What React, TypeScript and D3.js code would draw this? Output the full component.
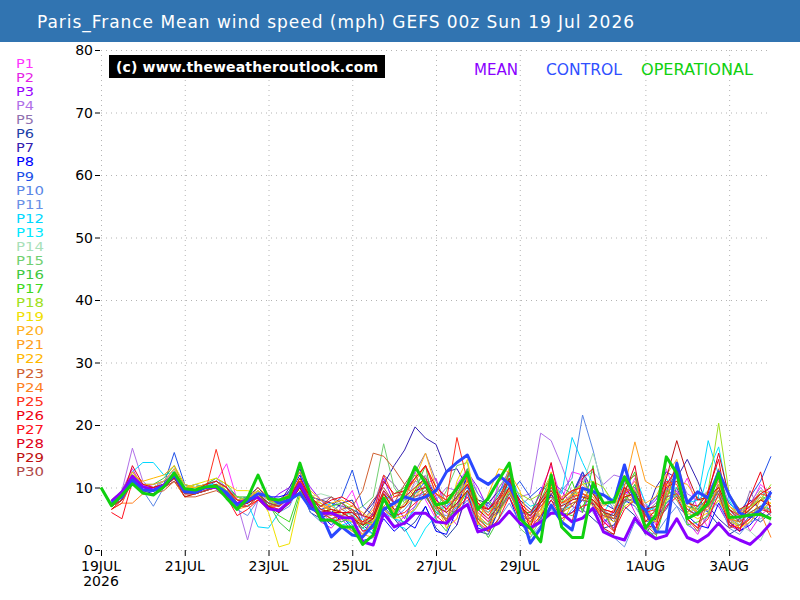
import React from 'react';
import * as d3 from 'd3';

// Run start and forecast step
const runStart = new Date(Date.UTC(2026, 6, 19, 0));
const runEnd = new Date(Date.UTC(2026, 7, 4, 0));
const stepHours = 6;

const titleText = 'Paris_France Mean wind speed (mph) GEFS 00z Sun 19 Jul 2026';

// x tick dates (UTC) and their labels
const tickDates = [
  [2026, 6, 19], [2026, 6, 21], [2026, 6, 23], [2026, 6, 25],
  [2026, 6, 27], [2026, 6, 29], [2026, 7, 1], [2026, 7, 3],
];
const tickLabels = ['19JUL', '21JUL', '23JUL', '25JUL', '27JUL', '29JUL', '1AUG', '3AUG'];
const yTicks = [0, 10, 20, 30, 40, 50, 60, 70, 80];

// Operational run starts at T+0, everything else at T+6
const operational = [
  10, 7.1, 8.8, 10.6, 9.1, 8.8, 10.1, 12.3, 9.8, 9.6, 10.1, 10.2, 8.3, 6.5, 8.3, 12.0,
  8.2, 8.0, 8.5, 13.9, 8.8, 4.8, 4.8, 3.7, 3.7, 0.9, 2.4, 8.3, 5.3, 9.3, 13.3, 10.7,
  7.2, 7.6, 9.9, 12.4, 6.5, 8.3, 11.2, 13.9, 5.0, 3.5, 1.3, 12.0, 3.7, 2.0, 2.0, 10.7,
  7.5, 7.7, 11.7, 8.8, 3.5, 5.6, 14.9, 12.3, 5.0, 5.9, 7.5, 12.3, 5.2, 5.3, 5.6, 5.7,
  5.0,
];

const mean = [
  7.8, 9.3, 11.8, 10.1, 9.6, 10.4, 12.0, 9.6, 9.4, 10.1, 10.0, 8.6, 7.4, 8.1, 8.4, 6.6,
  6.3, 7.8, 10.6, 7.5, 5.9, 5.9, 5.2, 5.1, 1.3, 0.8, 5.9, 3.7, 4.3, 5.9, 5.9, 4.5,
  4.3, 6.1, 7.3, 2.9, 3.5, 4.3, 6.2, 4.3, 3.5, 4.5, 5.9, 5.9, 4.5, 5.1, 6.7, 2.9,
  2.1, 1.6, 5.1, 2.9, 1.8, 2.3, 5.0, 2.0, 1.3, 2.4, 4.3, 2.4, 1.6, 0.9, 2.4, 4.3,
];

const control = [
  7.5, 8.5, 11.2, 9.6, 9.5, 10.2, 12.0, 9.3, 9.2, 10.0, 10.2, 9.2, 7.2, 7.8, 9.0, 8.6,
  7.5, 8.0, 9.1, 6.7, 5.9, 2.1, 3.7, 2.4, 2.1, 4.0, 6.5, 7.5, 8.5, 8.0, 8.5, 9.5,
  12.5, 14.0, 15.2, 11.5, 10.5, 12.0, 10.5, 6.7, 1.1, 3.5, 7.2, 4.5, 3.2, 9.9, 9.3, 8.8,
  7.7, 13.6, 7.7, 6.4, 2.9, 2.9, 13.9, 7.5, 9.3, 8.3, 12.5, 8.8, 5.9, 5.3, 6.4, 9.3,
];

// Perturbed members P1..P30
const p01 = [7.0, 8.5, 12.5, 10.5, 9.5, 10.0, 11.5, 9.0, 9.5, 10.5, 11.0, 13.8, 8.0, 7.5, 9.0, 7.0,
  6.5, 8.0, 10.5, 7.5, 6.0, 4.5, 7.0, 9.5, 5.0, 3.0, 9.5, 6.0, 9.0, 12.5, 8.0, 5.0,
  6.5, 10.5, 13.0, 6.5, 4.5, 11.0, 12.0, 7.5, 5.0, 9.5, 13.5, 8.0, 12.5, 12.0, 9.5, 4.5,
  3.5, 8.0, 11.5, 7.5, 4.0, 13.0, 8.5, 11.5, 6.5, 3.5, 11.5, 5.0, 3.0, 7.0, 10.5, 9.0];
const p02 = [8.0, 9.5, 13.0, 10.0, 10.5, 11.0, 12.5, 9.5, 10.0, 9.5, 10.0, 9.0, 7.5, 8.5, 10.0, 8.0,
  8.0, 9.5, 12.5, 8.0, 4.5, 3.5, 5.5, 4.0, 2.5, 5.0, 7.0, 3.5, 5.5, 7.0, 10.5, 11.5,
  6.0, 4.0, 9.0, 5.0, 3.5, 6.5, 10.0, 4.5, 2.5, 7.5, 9.0, 6.0, 8.0, 12.0, 7.5, 4.0,
  6.5, 9.5, 6.0, 3.0, 5.5, 7.0, 9.5, 4.5, 2.5, 6.0, 10.5, 4.0, 6.5, 3.0, 5.5, 7.0];
const p03 = [7.5, 9.0, 12.0, 10.0, 10.0, 11.0, 13.0, 10.0, 9.0, 10.0, 10.5, 9.5, 8.0, 7.5, 8.5, 7.5,
  9.0, 10.0, 13.0, 10.0, 8.0, 6.5, 5.0, 3.0, 2.0, 6.0, 11.5, 7.5, 5.0, 9.0, 12.0, 8.5,
  4.5, 7.0, 12.5, 10.0, 6.5, 9.0, 13.0, 6.0, 5.5, 9.5, 11.0, 9.5, 7.0, 6.0, 10.5, 5.0,
  3.5, 9.0, 10.0, 6.5, 8.0, 11.0, 9.0, 5.5, 7.0, 8.0, 7.0, 4.0, 3.0, 4.5, 6.5, 9.0];
const p04 = [7.0, 9.5, 16.3, 11.0, 9.5, 10.0, 11.5, 9.0, 9.0, 10.5, 11.0, 10.0, 7.5, 1.6, 8.0, 8.5,
  7.0, 8.0, 10.0, 8.5, 8.0, 6.0, 4.5, 5.5, 3.5, 5.0, 8.0, 5.0, 7.5, 11.0, 10.5, 8.0,
  10.0, 9.5, 13.0, 9.0, 7.0, 10.0, 12.0, 8.5, 9.0, 18.7, 17.5, 13.5, 9.0, 11.5, 12.5, 10.5,
  12.0, 11.5, 9.5, 7.0, 6.5, 10.5, 12.5, 9.0, 8.0, 9.5, 12.0, 7.5, 6.0, 7.5, 10.0, 8.0];
const p05 = [7.5, 8.5, 11.5, 10.0, 10.0, 10.5, 12.0, 10.0, 10.5, 10.0, 10.0, 9.5, 8.5, 8.0, 9.0, 8.0,
  7.0, 9.5, 11.0, 7.5, 8.0, 8.5, 6.5, 5.5, 4.5, 7.0, 12.0, 10.5, 8.0, 12.5, 15.5, 11.0,
  7.5, 6.5, 10.5, 5.5, 4.0, 8.5, 11.0, 7.0, 8.5, 5.0, 6.5, 10.0, 9.0, 12.0, 7.5, 6.5,
  5.0, 11.5, 8.0, 6.0, 7.5, 10.0, 8.0, 5.0, 6.5, 8.0, 9.5, 6.5, 4.5, 9.5, 6.0, 5.0];
const p06 = [7.0, 8.5, 11.5, 9.5, 9.5, 10.0, 12.5, 10.0, 10.0, 10.5, 11.0, 10.0, 7.5, 8.0, 9.5, 7.0,
  6.0, 7.5, 10.0, 6.0, 5.0, 6.0, 7.5, 8.0, 4.0, 2.5, 7.0, 5.0, 3.0, 4.5, 7.0, 3.5,
  2.0, 4.0, 9.5, 3.0, 2.5, 6.5, 11.5, 4.0, 3.5, 5.0, 8.0, 6.0, 9.0, 6.5, 5.0, 3.5,
  4.0, 7.0, 5.5, 2.5, 5.0, 6.5, 10.0, 6.0, 8.5, 6.0, 4.0, 2.5, 3.5, 5.5, 4.5, 6.0];
const p07 = [7.5, 9.0, 12.0, 10.5, 10.0, 11.0, 12.0, 9.5, 9.5, 10.0, 10.5, 9.5, 8.0, 8.5, 10.0, 8.0,
  7.5, 10.0, 13.0, 8.5, 8.0, 7.5, 7.0, 6.5, 5.5, 7.5, 10.5, 13.5, 16.0, 19.7, 17.9, 16.9,
  12.5, 13.0, 10.0, 8.0, 7.5, 9.5, 11.0, 8.0, 6.5, 5.0, 9.0, 6.0, 8.5, 12.5, 9.5, 7.5,
  6.5, 8.0, 9.5, 5.5, 10.0, 12.5, 11.5, 14.5, 11.0, 7.0, 5.0, 3.5, 5.0, 8.0, 6.5, 9.5];
const p08 = [7.0, 8.0, 11.0, 9.5, 9.0, 10.0, 12.0, 9.5, 9.0, 9.5, 10.5, 9.0, 7.0, 7.5, 9.0, 8.5,
  8.5, 9.0, 12.0, 7.5, 5.5, 4.0, 5.5, 3.5, 1.5, 2.0, 5.0, 3.0, 4.5, 3.5, 7.0, 3.0,
  2.5, 6.5, 12.0, 3.5, 3.0, 6.5, 8.5, 4.0, 3.5, 5.0, 9.0, 5.5, 6.0, 8.0, 10.5, 6.0,
  4.5, 8.0, 7.0, 4.5, 5.0, 7.5, 9.0, 5.5, 4.0, 3.5, 7.5, 4.5, 3.0, 4.0, 6.0, 5.0];
const p09 = [7.5, 9.0, 11.5, 10.0, 10.0, 10.5, 15.6, 10.5, 9.5, 10.0, 11.0, 10.0, 8.5, 8.0, 9.0, 7.5,
  7.0, 9.5, 12.5, 8.5, 6.5, 7.0, 8.5, 12.8, 7.0, 5.5, 9.0, 7.5, 8.0, 9.0, 11.0, 9.0,
  7.0, 8.5, 10.0, 6.5, 7.5, 6.0, 9.0, 11.0, 8.5, 10.0, 9.5, 7.0, 9.0, 12.5, 7.0, 4.5,
  6.0, 11.0, 9.0, 6.5, 8.5, 9.5, 12.5, 8.0, 5.5, 7.5, 10.5, 7.5, 6.0, 8.5, 11.0, 15.0];
const p10 = [7.0, 8.5, 11.0, 9.5, 7.0, 10.0, 11.5, 9.0, 9.5, 10.0, 10.0, 9.0, 8.0, 8.5, 9.5, 8.0,
  6.0, 7.0, 10.5, 6.0, 4.5, 5.0, 5.5, 6.0, 3.0, 4.0, 8.0, 5.0, 6.5, 8.5, 9.0, 5.5,
  7.5, 9.0, 12.0, 9.0, 7.0, 6.0, 9.0, 6.0, 4.5, 6.5, 8.0, 9.5, 11.5, 21.6, 16.0, 9.0,
  6.5, 7.5, 8.5, 6.0, 4.5, 9.0, 7.0, 5.5, 7.0, 6.0, 9.5, 5.0, 4.0, 6.5, 8.5, 6.0];
const p11 = [8.0, 9.0, 12.5, 10.5, 10.5, 11.0, 12.5, 10.0, 10.0, 10.5, 11.5, 10.0, 6.5, 5.5, 8.0, 6.5,
  7.5, 9.0, 10.5, 7.0, 6.5, 5.0, 4.0, 3.5, 5.5, 4.0, 6.5, 5.0, 4.0, 7.0, 8.5, 6.0,
  5.5, 6.0, 8.0, 4.0, 3.0, 5.0, 7.5, 4.5, 2.0, 4.0, 6.5, 4.5, 6.5, 8.0, 6.0, 3.5,
  2.0, 0.5, 4.5, 3.0, 2.5, 5.0, 7.0, 4.0, 3.0, 5.5, 8.0, 3.5, 2.5, 4.5, 5.0, 6.0];
const p12 = [7.5, 9.5, 12.5, 14.0, 14.0, 12.0, 12.5, 10.5, 10.0, 10.5, 10.5, 9.5, 8.0, 7.5, 3.7, 3.5,
  6.0, 8.0, 10.0, 6.5, 7.0, 7.5, 5.5, 4.0, 3.5, 2.5, 6.0, 5.0, 4.5, 6.5, 9.0, 6.0,
  7.0, 8.5, 11.0, 7.0, 6.0, 9.0, 12.0, 8.5, 7.0, 7.5, 10.5, 9.0, 18.0, 14.0, 10.5, 6.0,
  5.5, 10.0, 9.0, 6.0, 7.0, 11.5, 8.5, 7.5, 8.0, 17.5, 12.0, 6.5, 5.5, 7.0, 9.5, 8.0];
const p13 = [7.0, 8.5, 11.5, 9.5, 9.5, 10.5, 12.0, 9.5, 9.5, 10.0, 10.5, 9.5, 7.5, 7.5, 9.0, 7.5,
  7.0, 8.5, 10.0, 8.0, 7.5, 6.0, 4.0, 4.5, 5.0, 3.0, 5.5, 4.0, 3.5, 0.5, 3.5, 5.5,
  8.0, 6.5, 9.5, 5.0, 4.0, 7.5, 10.5, 6.5, 5.5, 8.0, 10.0, 6.5, 7.0, 9.0, 8.0, 6.0,
  8.5, 10.5, 12.0, 7.5, 6.0, 9.5, 10.0, 8.0, 6.0, 12.5, 16.5, 8.0, 5.0, 5.5, 7.0, 8.5];
const p14 = [7.5, 9.0, 12.0, 10.5, 10.0, 11.0, 13.0, 10.0, 10.0, 10.5, 11.0, 10.0, 8.0, 8.0, 9.5, 7.5,
  7.5, 8.0, 10.5, 8.5, 9.0, 8.5, 7.0, 5.5, 4.5, 6.0, 9.5, 7.5, 8.0, 10.5, 12.0, 9.0,
  7.5, 8.0, 11.0, 6.5, 5.5, 7.0, 9.5, 6.0, 5.0, 6.5, 8.5, 7.0, 9.0, 10.5, 15.5, 10.0,
  7.0, 8.5, 7.0, 4.0, 3.0, 8.5, 9.0, 5.5, 7.0, 9.5, 11.0, 6.0, 4.0, 3.0, 1.5, 5.0];
const p15 = [7.5, 9.0, 11.5, 9.5, 9.5, 10.5, 12.0, 9.5, 10.5, 10.0, 10.5, 9.5, 8.5, 8.0, 9.0, 7.5,
  7.5, 9.0, 11.0, 7.5, 6.5, 6.0, 5.5, 6.0, 7.0, 8.5, 17.0, 10.0, 7.5, 9.0, 10.0, 6.5,
  9.5, 13.5, 14.0, 5.0, 4.0, 10.0, 12.5, 3.5, 2.0, 5.0, 11.0, 5.5, 8.5, 11.0, 9.0, 6.0,
  5.0, 8.0, 10.5, 6.0, 4.5, 7.5, 10.0, 8.0, 6.5, 7.0, 8.5, 4.5, 4.0, 6.5, 9.0, 7.0];
const p16 = [7.0, 8.5, 12.0, 10.5, 10.5, 11.5, 13.5, 10.0, 10.0, 10.5, 11.5, 10.5, 8.5, 8.5, 9.0, 7.5,
  4.5, 3.0, 9.0, 7.5, 6.0, 5.0, 4.5, 5.5, 3.5, 5.0, 9.0, 6.5, 4.0, 9.5, 13.5, 5.0,
  3.0, 8.5, 13.0, 4.5, 2.0, 5.0, 12.5, 6.0, 6.0, 9.0, 11.5, 6.0, 5.5, 7.0, 9.5, 6.0,
  3.0, 7.5, 10.5, 5.5, 4.5, 9.5, 8.5, 7.0, 6.5, 8.5, 9.0, 5.0, 4.5, 6.0, 7.0, 6.5];
const p17 = [7.5, 9.5, 12.0, 10.0, 10.0, 10.5, 12.5, 10.0, 10.0, 10.0, 10.5, 9.5, 7.5, 7.5, 9.0, 7.0,
  5.5, 4.5, 9.5, 7.0, 5.5, 7.0, 7.5, 6.5, 4.0, 4.5, 8.0, 9.0, 10.0, 12.0, 8.5, 6.0,
  5.0, 6.5, 9.5, 7.0, 8.0, 6.0, 9.5, 5.5, 4.0, 8.0, 11.5, 7.5, 11.0, 6.0, 13.5, 3.0,
  2.5, 9.5, 12.5, 3.5, 2.0, 8.0, 13.0, 4.0, 4.5, 5.5, 10.5, 7.0, 5.5, 7.0, 8.0, 9.0];
const p18 = [7.0, 9.0, 12.5, 10.0, 10.0, 10.5, 12.0, 9.5, 9.5, 10.5, 11.0, 9.5, 8.5, 8.0, 9.5, 8.0,
  7.0, 8.5, 10.5, 7.0, 6.0, 6.5, 5.0, 4.5, 4.0, 5.5, 8.5, 6.0, 7.0, 9.5, 11.5, 7.5,
  6.0, 8.0, 12.5, 8.0, 6.5, 7.0, 10.0, 9.0, 8.0, 9.0, 12.0, 8.0, 9.5, 10.5, 11.0, 10.0,
  7.5, 8.5, 7.5, 5.5, 6.0, 9.5, 8.0, 6.0, 7.0, 9.5, 20.3, 9.0, 6.5, 7.0, 8.0, 10.5];
const p19 = [7.5, 8.5, 11.5, 10.0, 10.0, 10.5, 12.5, 10.0, 10.5, 11.0, 11.5, 10.5, 9.5, 9.5, 9.0, 6.0,
  0.5, 1.0, 8.5, 8.0, 7.5, 6.0, 4.0, 3.0, 2.5, 4.5, 9.0, 6.0, 7.5, 10.0, 11.0, 8.0,
  4.5, 11.0, 14.5, 5.5, 3.0, 7.0, 13.0, 6.0, 2.5, 5.5, 10.5, 4.0, 7.5, 8.5, 8.0, 5.5,
  4.5, 7.0, 8.0, 4.5, 5.5, 8.0, 9.0, 6.0, 5.0, 6.0, 8.0, 5.0, 3.5, 4.5, 6.5, 7.5];
const p20 = [8.0, 9.5, 12.5, 10.5, 10.5, 11.0, 13.0, 10.0, 10.0, 9.5, 10.0, 9.0, 7.5, 7.5, 8.5, 7.0,
  7.0, 8.5, 11.0, 9.0, 7.5, 6.5, 5.5, 4.5, 2.5, 2.0, 6.5, 7.0, 8.5, 11.5, 15.5, 10.0,
  6.5, 7.0, 9.5, 5.5, 4.0, 6.0, 8.5, 5.5, 4.0, 6.5, 9.5, 7.5, 8.0, 10.0, 7.5, 5.0,
  6.5, 12.0, 9.5, 7.5, 8.5, 12.0, 14.5, 8.0, 6.0, 6.5, 10.5, 7.0, 5.5, 6.5, 8.5, 7.0];
const p21 = [7.0, 8.0, 11.0, 9.5, 9.5, 10.0, 11.5, 9.0, 9.0, 10.0, 10.5, 10.0, 8.0, 8.0, 10.0, 8.5,
  8.0, 9.0, 12.5, 9.5, 8.0, 7.0, 6.0, 5.0, 4.5, 6.5, 9.0, 6.0, 7.0, 8.5, 10.5, 9.0,
  8.0, 9.0, 11.0, 7.0, 5.5, 8.0, 9.5, 6.5, 5.5, 7.5, 10.0, 7.5, 9.0, 10.5, 9.0, 7.0,
  8.0, 10.0, 17.3, 11.0, 10.0, 10.5, 11.0, 10.5, 8.0, 8.5, 11.0, 7.0, 6.0, 7.0, 9.5, 9.0];
const p22 = [7.5, 9.0, 12.0, 11.0, 11.5, 12.0, 13.5, 10.5, 10.0, 10.5, 10.0, 9.5, 8.0, 8.0, 9.5, 8.0,
  7.5, 9.0, 11.5, 8.0, 6.0, 7.5, 8.0, 7.0, 6.0, 4.5, 6.5, 5.0, 5.5, 6.5, 9.0, 7.5,
  3.5, 5.0, 11.5, 4.0, 9.0, 13.0, 12.5, 9.5, 4.0, 6.0, 12.5, 5.5, 9.0, 8.5, 7.0, 5.5,
  5.0, 9.0, 8.0, 5.5, 4.5, 10.5, 9.0, 7.0, 6.0, 8.5, 10.0, 6.0, 3.5, 5.0, 8.0, 7.5];
const p23 = [7.0, 8.0, 11.0, 9.0, 9.0, 9.5, 11.0, 8.5, 8.5, 9.0, 9.5, 8.5, 7.0, 7.0, 8.5, 7.0,
  7.5, 8.0, 10.5, 7.5, 6.0, 5.5, 6.5, 7.0, 9.5, 15.5, 15.0, 13.0, 10.5, 8.5, 9.5, 6.5,
  5.0, 7.5, 9.5, 6.0, 4.5, 6.5, 9.0, 6.5, 5.5, 7.0, 8.5, 6.0, 7.0, 9.0, 8.0, 6.5,
  3.0, 10.5, 12.0, 4.0, 2.5, 9.0, 14.0, 5.0, 3.0, 8.0, 13.0, 3.5, 4.0, 5.0, 7.0, 6.0];
const p24 = [6.5, 7.5, 7.5, 9.0, 9.0, 10.0, 11.0, 8.5, 9.0, 10.0, 10.0, 8.5, 6.5, 7.0, 8.0, 7.0,
  7.0, 8.5, 11.5, 8.0, 7.0, 6.5, 6.0, 5.0, 4.5, 4.0, 7.0, 8.5, 9.5, 11.0, 13.5, 9.0,
  7.5, 8.0, 10.5, 7.5, 6.0, 7.5, 9.5, 7.0, 5.0, 6.5, 10.0, 8.5, 9.5, 9.0, 8.5, 6.0,
  5.0, 9.0, 11.0, 6.5, 5.0, 8.5, 12.5, 8.0, 6.0, 7.0, 10.0, 5.0, 4.5, 6.0, 6.0, 2.0];
const p25 = [6.5, 7.5, 11.0, 9.5, 9.5, 10.0, 11.5, 9.0, 9.0, 9.5, 16.1, 10.0, 7.5, 7.0, 8.0, 6.5,
  6.5, 7.5, 11.0, 8.0, 6.0, 5.0, 5.5, 6.5, 4.0, 6.0, 12.0, 8.5, 9.0, 11.5, 13.5, 9.0,
  8.0, 18.0, 11.0, 7.5, 5.5, 8.0, 10.0, 6.0, 4.5, 7.5, 10.0, 7.5, 8.5, 9.0, 8.0, 6.5,
  6.0, 10.0, 9.0, 6.0, 6.5, 11.0, 10.5, 6.5, 5.5, 8.5, 11.5, 6.5, 5.5, 7.0, 9.0, 8.5];
const p26 = [7.0, 8.0, 12.0, 10.0, 10.0, 10.5, 12.0, 9.5, 9.5, 10.0, 10.5, 9.0, 7.0, 7.5, 8.5, 7.0,
  6.0, 8.0, 11.5, 8.5, 7.0, 8.0, 8.5, 7.5, 5.5, 5.0, 11.0, 9.0, 9.5, 11.5, 13.5, 10.0,
  8.5, 9.5, 12.5, 7.5, 6.5, 8.5, 11.5, 7.5, 6.0, 8.0, 10.5, 8.0, 9.5, 10.0, 9.0, 6.5,
  6.0, 10.0, 8.0, 5.5, 3.5, 10.5, 13.0, 5.0, 3.5, 9.5, 14.5, 4.5, 3.0, 8.5, 12.5, 6.0];
const p27 = [6.0, 5.0, 11.0, 9.5, 9.5, 10.5, 12.0, 9.0, 9.5, 10.0, 10.0, 8.5, 5.5, 6.5, 8.0, 7.0,
  6.5, 7.5, 10.0, 7.0, 5.0, 4.5, 5.0, 5.5, 3.0, 3.5, 8.0, 5.5, 6.0, 7.5, 9.0, 5.5,
  4.0, 6.5, 8.5, 4.5, 3.0, 5.0, 8.5, 5.0, 3.5, 5.5, 8.0, 5.0, 6.0, 7.0, 7.5, 4.5,
  3.0, 6.5, 8.0, 4.0, 3.5, 7.0, 8.5, 5.0, 3.5, 5.0, 9.0, 4.0, 3.5, 5.0, 6.5, 6.0];
const p28 = [7.0, 8.5, 13.5, 10.5, 10.0, 10.5, 12.0, 9.5, 9.5, 10.5, 11.0, 10.0, 8.0, 7.5, 9.0, 7.5,
  7.0, 8.5, 11.0, 8.5, 6.5, 6.0, 6.0, 6.0, 4.5, 5.5, 9.5, 7.5, 8.5, 10.0, 11.5, 8.0,
  6.5, 8.5, 10.5, 7.0, 6.5, 8.0, 11.0, 8.0, 3.5, 8.5, 14.0, 6.0, 4.5, 11.5, 13.0, 3.5,
  2.5, 9.0, 13.5, 4.5, 6.5, 10.0, 11.0, 7.5, 7.0, 9.0, 15.5, 8.5, 6.5, 7.5, 9.0, 10.0];
const p29 = [6.5, 8.0, 11.5, 9.0, 9.0, 10.0, 11.5, 8.5, 9.0, 9.5, 10.0, 9.0, 7.5, 7.5, 8.5, 7.0,
  6.0, 7.5, 10.0, 7.0, 6.0, 6.5, 6.0, 5.0, 4.0, 5.0, 9.0, 6.5, 7.0, 9.5, 10.0, 7.0,
  6.0, 7.5, 9.5, 6.5, 5.0, 7.0, 10.0, 7.0, 5.5, 7.5, 9.5, 7.0, 8.0, 8.5, 8.0, 6.0,
  5.5, 8.5, 9.0, 6.5, 7.0, 11.5, 17.5, 12.0, 8.0, 8.5, 10.0, 6.5, 5.0, 6.5, 8.0, 7.0];
const p30 = [7.0, 8.0, 11.0, 9.5, 9.5, 10.0, 11.0, 9.0, 9.0, 9.5, 10.0, 9.0, 7.0, 7.0, 8.5, 7.5,
  7.0, 9.0, 11.0, 8.0, 7.0, 8.5, 7.5, 6.0, 5.5, 8.0, 10.0, 7.5, 10.5, 13.0, 11.5, 7.0,
  4.5, 9.5, 12.0, 5.0, 3.5, 8.0, 12.5, 5.0, 5.0, 7.0, 9.0, 6.5, 7.5, 8.0, 7.5, 5.5,
  5.0, 8.0, 8.0, 5.5, 5.0, 8.5, 9.0, 6.5, 5.5, 7.0, 9.5, 6.0, 4.5, 6.0, 7.0, 5.5];

const members = [
  p01, p02, p03, p04, p05, p06, p07, p08, p09, p10,
  p11, p12, p13, p14, p15, p16, p17, p18, p19, p20,
  p21, p22, p23, p24, p25, p26, p27, p28, p29, p30,
];
const memberNames = members.map((_, i) => `P${i + 1}`);
const memberColors = [
  '#ff33ff', '#e61ee6', '#9a00ff', '#b070e8', '#9070b0', '#2040a8', '#3320b0', '#0000ff', '#2050e8', '#5a86e6',
  '#6a90e6', '#00d8ff', '#00e8ff', '#a8e0b8', '#70d070', '#40c840', '#40d820', '#a0e020', '#f0e000', '#ffb020',
  '#ffa020', '#ffb800', '#d06030', '#ff8020', '#ff3020', '#f00010', '#ff1020', '#e00020', '#c01010', '#b04848',
];

const W = 800;
const H = 600;
const plot = { left: 101, right: 771, top: 50, bottom: 550 };
const font = 'DejaVu Sans, sans-serif';

const x = d3.scaleUtc().domain([runStart, runEnd]).range([plot.left, plot.right]);
const y = d3.scaleLinear().domain([0, 80]).range([plot.bottom, plot.top]);

const timeAt = (step: number) => new Date(runStart.getTime() + step * stepHours * 3600 * 1000);

// offset = forecast step of the first value
const linePath = (values: number[], offset: number) =>
  d3.line<number>()
    .x((_, i) => x(timeAt(i + offset)))
    .y(d => y(d))(values) || '';

export default function App() {
  const tickX = tickDates.map(([yy, mm, dd]) => x(new Date(Date.UTC(yy, mm, dd))));

  return (
    <div style={{ position: 'fixed', left: 0, top: 0 }}>
      <svg width={W} height={H} style={{ display: 'block', background: '#fff' }}>
        {/* title bar */}
        <rect x={0} y={0} width={W} height={42} fill="#3174b1" />
        <text x={37} y={28} fill="#fff" fontFamily={font} fontSize={17}
          textLength={597} lengthAdjust="spacing">{titleText}</text>

        {/* grid */}
        <g stroke="#b4b4b4" strokeWidth={1} strokeDasharray="1,4" fill="none">
          {yTicks.map(t => (
            <line key={`h${t}`} x1={plot.left} x2={plot.right} y1={y(t) + 0.5} y2={y(t) + 0.5} />
          ))}
          {tickX.map((tx, i) => (
            <line key={`v${i}`} x1={tx + 0.5} x2={tx + 0.5} y1={plot.top} y2={plot.bottom} />
          ))}
        </g>

        {/* y axis ticks and labels */}
        <g fontFamily={font} fontSize={14} fill="#000">
          {yTicks.map(t => (
            <g key={`yl${t}`}>
              <line x1={plot.left - 6} x2={plot.left - 1} y1={y(t) + 0.5} y2={y(t) + 0.5} stroke="#000" />
              <text x={plot.left - 8} y={y(t) + 5} textAnchor="end">{t}</text>
            </g>
          ))}
        </g>

        {/* x axis ticks and labels */}
        <g fontFamily={font} fontSize={14} fill="#000">
          {tickX.map((tx, i) => (
            <g key={`xl${i}`}>
              <line x1={tx + 0.5} x2={tx + 0.5} y1={plot.bottom} y2={plot.bottom + 6} stroke="#000" />
              <text x={tx} y={571} textAnchor="middle">{tickLabels[i]}</text>
            </g>
          ))}
          <text x={tickX[0]} y={586} textAnchor="middle">2026</text>
        </g>

        {/* ensemble members */}
        <g fill="none" strokeWidth={1} strokeLinejoin="round">
          {members.map((m, i) => (
            <path key={memberNames[i]} d={linePath(m, 1)} stroke={memberColors[i]} />
          ))}
        </g>

        {/* mean, control, operational */}
        <g fill="none" strokeWidth={3} strokeLinejoin="round">
          <path d={linePath(mean, 1)} stroke="#8a00ff" />
          <path d={linePath(control, 1)} stroke="#2a48ff" />
          <path d={linePath(operational, 0)} stroke="#10d010" />
        </g>

        {/* member legend */}
        <g fontFamily={font} fontSize={12}>
          {memberNames.map((name, i) => (
            <text key={name} x={16} y={68 + i * 14.07} fill={memberColors[i]}
              textLength={name.length === 2 ? 18 : 28} lengthAdjust="spacingAndGlyphs">{name}</text>
          ))}
        </g>

        {/* copyright box */}
        <rect x={109} y={55} width={276} height={23} fill="#000" />
        <text x={116} y={72} fill="#fff" fontFamily={font} fontSize={14} fontWeight="bold"
          textLength={262} lengthAdjust="spacing">(c) www.theweatheroutlook.com</text>

        {/* series key */}
        <g fontFamily={font} fontSize={15}>
          <text x={474} y={75} fill="#8a00ff" textLength={44} lengthAdjust="spacingAndGlyphs">MEAN</text>
          <text x={546} y={75} fill="#3050ff" textLength={76} lengthAdjust="spacingAndGlyphs">CONTROL</text>
          <text x={641} y={75} fill="#10d010" textLength={112} lengthAdjust="spacingAndGlyphs">OPERATIONAL</text>
        </g>
      </svg>
    </div>
  );
}
